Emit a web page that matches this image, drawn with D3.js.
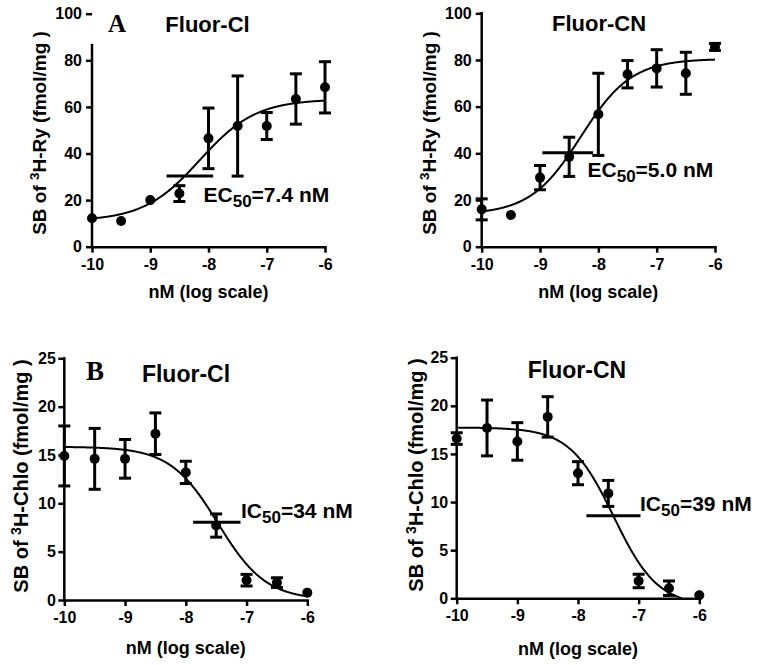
<!DOCTYPE html>
<html>
<head>
<meta charset="utf-8">
<script src="https://cdn.jsdelivr.net/npm/d3@7"></script>
<style>
  html, body { margin: 0; padding: 0; background: #fff; }
  svg { display: block; }
  text { font-family: "Liberation Sans", Arial, Helvetica, sans-serif; font-weight: bold; fill: #000; }
</style>
</head>
<body>
<svg id="chart" width="763" height="665"></svg>
<script>
// ---------------- DATA ----------------
const logConc = [-10, -9.5, -9, -8.5, -8, -7.5, -7, -6.5, -6];
const xTicks = [-10, -9, -8, -7, -6];
const ryTicks = [0, 20, 40, 60, 80, 100];
const chloTicks = [0, 5, 10, 15, 20, 25];

// Panel A, [3H]-Ry binding
const ryClMean = [12.2, 11.0, 20.0, 22.8, 46.5, 51.8, 51.8, 63.4, 68.4];
const ryClErr  = [0, 0, 0, 3.4, 13.0, 21.5, 5.8, 10.8, 11.0];
const ryCnMean = [16.0, 13.6, 29.6, 38.5, 56.7, 73.9, 76.4, 74.3, 85.6];
const ryCnErr  = [4.5, 0, 5.2, 8.4, 17.6, 5.85, 8.0, 9.0, 1.5];

// Panel B, [3H]-Chlo binding
const chloClMean = [14.9, 14.6, 14.6, 17.2, 13.2, 7.7, 2.05, 1.8, 0.76];
const chloClErr  = [3.1, 3.15, 2.0, 2.15, 1.15, 1.2, 0.6, 0.5, 0];
const chloCnMean = [16.6, 17.7, 16.3, 18.85, 13.0, 10.9, 1.8, 1.05, 0.31];
const chloCnErr  = [0.6, 2.9, 1.95, 2.1, 1.2, 1.35, 0.7, 0.75, 0];

// Fitted sigmoid parameters: [bottom, top, logEC50/IC50, hill slope]
const ryClFit   = [11.0, 63.3, -8.15, 0.9];
const ryCnFit   = [13.8, 80.5, -8.30, 1.0];
const chloClFit = [0.0, 15.85, -7.47, -1.1];
const chloCnFit = [-0.8, 17.75, -7.41, -1.2];

// EC50/IC50 horizontal markers: [x from, x to, y]
const ryClBar   = [-8.72, -7.92, 30.3];
const ryCnBar   = [-8.96, -8.09, 40.3];
const chloClBar = [-7.88, -7.10, 8.03];
const chloCnBar = [-7.86, -6.97, 8.57];

const titles = ["Fluor-Cl", "Fluor-CN", "Fluor-Cl", "Fluor-CN"];
const letters = ["A", "", "B", ""];
const ecLabels = [["EC", "50", "=7.4 nM"], ["EC", "50", "=5.0 nM"], ["IC", "50", "=34 nM"], ["IC", "50", "=39 nM"]];
const yTitles = [["SB of ", "3", "H-Ry (fmol/mg )"], ["SB of ", "3", "H-Ry (fmol/mg )"],
                 ["SB of ", "3", "H-Chlo (fmol/mg )"], ["SB of ", "3", "H-Chlo (fmol/mg )"]];
const xTitle = "nM (log scale)";

// ---------------- LAYOUT ----------------
const panels = [
  { mean: ryClMean, err: ryClErr, fit: ryClFit, bar: ryClBar, yd: [0, 100], ticks: ryTicks,
    xr: [92, 325], yr: [246.7, 13.7], domTop: 86.5, yPad: 4, xPad: 6,
    title: [207.5, 31.7, 22], letter: [108, 31.7, 25], lab: [203.5, 201.7],
    yT: [45.6, 133, 19], xT: 298.3 },
  { mean: ryCnMean, err: ryCnErr, fit: ryCnFit, bar: ryCnBar, yd: [0, 100], ticks: ryTicks,
    xr: [481.7, 715], yr: [246.7, 13.3], domTop: 100, yPad: 4, xPad: 6,
    title: [599, 30.7, 22], letter: null, lab: [587.5, 176.5],
    yT: [435.6, 133, 19], xT: 297.7 },
  { mean: chloClMean, err: chloClErr, fit: chloClFit, bar: chloClBar, yd: [0, 25], ticks: chloTicks,
    xr: [64.3, 307.3], yr: [600, 358.3], domTop: 25, yPad: 2.5, xPad: 5.5,
    title: [186, 381.7, 23], letter: [86, 380, 27], lab: [241, 518.3],
    yT: [27.9, 476, 20], xT: 654 },
  { mean: chloCnMean, err: chloCnErr, fit: chloCnFit, bar: chloCnBar, yd: [0, 25], ticks: chloTicks,
    xr: [456.7, 699.3], yr: [598.3, 357.7], domTop: 25, yPad: 2.5, xPad: 5.5,
    title: [577, 378.3, 23], letter: null, lab: [640, 510.7],
    yT: [422.9, 475, 20], xT: 655 }
];

const svg = d3.select("#chart");

function sigmoid(p, xv) {
  const [b, t, x0, h] = p;
  return b + (t - b) / (1 + Math.pow(10, (x0 - xv) * h));
}

panels.forEach((cfg, i) => {
  const g = svg.append("g");
  const x = d3.scaleLinear().domain([-10, -6]).range(cfg.xr);
  const y = d3.scaleLinear().domain(cfg.yd).range(cfg.yr);

  // x axis
  const xa = g.append("g")
    .attr("transform", `translate(0,${cfg.yr[0]})`)
    .call(d3.axisBottom(x).tickValues(xTicks).tickFormat(d => String(d))
      .tickSize(6).tickPadding(cfg.xPad).tickSizeOuter(0));
  xa.select(".domain").attr("stroke-width", 2.5).attr("stroke-linecap", "square");
  xa.selectAll(".tick line").attr("stroke-width", 2.5);
  xa.selectAll(".tick text").attr("font-size", 16);

  // y axis
  const ya = g.append("g")
    .attr("transform", `translate(${cfg.xr[0]},0)`)
    .call(d3.axisLeft(y).tickValues(cfg.ticks).tickFormat(d => String(d))
      .tickSize(6).tickPadding(cfg.yPad).tickSizeOuter(0));
  ya.select(".domain").remove();
  ya.selectAll(".tick line").attr("stroke-width", 2.5);
  ya.selectAll(".tick text").attr("font-size", 16);
  g.append("line")
    .attr("x1", cfg.xr[0]).attr("x2", cfg.xr[0])
    .attr("y1", y(0)).attr("y2", y(cfg.domTop))
    .attr("stroke", "#000").attr("stroke-width", 2.5).attr("stroke-linecap", "square");

  // fitted curve
  const xs = d3.range(-10, -6.0001, 0.01).concat([-6]);
  const pts = xs.map(v => [v, sigmoid(cfg.fit, v)]).filter(d => d[1] >= 0);
  g.append("path")
    .datum(pts)
    .attr("fill", "none").attr("stroke", "#000").attr("stroke-width", 2)
    .attr("d", d3.line().x(d => x(d[0])).y(d => y(d[1])));

  // error bars
  const rows = logConc.map((c, k) => ({ c, m: cfg.mean[k], e: cfg.err[k] })).filter(d => d.e > 0);
  const eb = g.append("g").attr("stroke", "#000").attr("stroke-width", 3);
  rows.forEach(d => {
    eb.append("line").attr("x1", x(d.c)).attr("x2", x(d.c)).attr("y1", y(d.m - d.e)).attr("y2", y(d.m + d.e));
    [d.m - d.e, d.m + d.e].forEach(v => {
      eb.append("line").attr("x1", x(d.c) - 6).attr("x2", x(d.c) + 6).attr("y1", y(v)).attr("y2", y(v));
    });
  });

  // dots
  g.append("g").selectAll("circle")
    .data(logConc.map((c, k) => ({ c, m: cfg.mean[k] })))
    .join("circle")
    .attr("cx", d => x(d.c)).attr("cy", d => y(d.m)).attr("r", 5).attr("fill", "#000");

  // EC50/IC50 marker
  g.append("line")
    .attr("x1", x(cfg.bar[0])).attr("x2", x(cfg.bar[1]))
    .attr("y1", y(cfg.bar[2])).attr("y2", y(cfg.bar[2]))
    .attr("stroke", "#000").attr("stroke-width", 3);

  // EC50/IC50 label
  const lt = g.append("text").attr("x", cfg.lab[0]).attr("y", cfg.lab[1]).attr("font-size", 21);
  lt.append("tspan").text(ecLabels[i][0]);
  lt.append("tspan").attr("font-size", 17).attr("dy", 5).text(ecLabels[i][1]);
  lt.append("tspan").attr("dy", -5).text(ecLabels[i][2]);

  // panel title
  g.append("text").attr("x", cfg.title[0]).attr("y", cfg.title[1])
    .attr("text-anchor", "middle").attr("font-size", cfg.title[2]).text(titles[i]);
  if (cfg.letter) {
    g.append("text").attr("x", cfg.letter[0]).attr("y", cfg.letter[1])
      .attr("font-size", cfg.letter[2])
      .style("font-family", '"Liberation Serif", "Times New Roman", serif')
      .text(letters[i]);
  }

  // y title
  const yt = g.append("text")
    .attr("transform", `translate(${cfg.yT[0]},${cfg.yT[1]}) rotate(-90)`)
    .attr("text-anchor", "middle").attr("font-size", cfg.yT[2]);
  yt.append("tspan").text(yTitles[i][0]);
  yt.append("tspan").attr("font-size", cfg.yT[2] * 0.7).attr("dy", -7).text(yTitles[i][1]);
  yt.append("tspan").attr("dy", 7).text(yTitles[i][2]);

  // x title
  g.append("text").attr("x", (cfg.xr[0] + cfg.xr[1]) / 2).attr("y", cfg.xT)
    .attr("text-anchor", "middle").attr("font-size", 18).text(xTitle);
});

// stray "100-" fragment in top-left panel is rendered by its tick (value 100) above.
</script>
</body>
</html>
